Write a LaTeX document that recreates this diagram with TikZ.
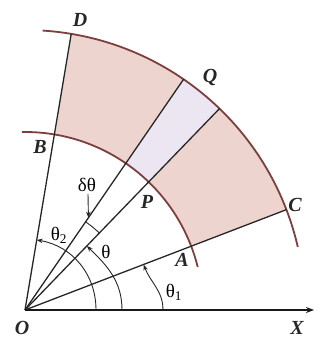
\documentclass[tikz,border=0pt]{standalone}
\usepackage{fontspec}
\setmainfont{Liberation Serif}
\usetikzlibrary{arrows.meta}
\definecolor{sectorfill}{RGB}{238,212,206}
\definecolor{stripfill}{RGB}{236,230,242}
\definecolor{arcline}{RGB}{125,62,62}
\begin{document}
\begin{tikzpicture}[x=1pt,y=1pt,
  ray/.style={line width=1.3pt, black!85},
  bigarc/.style={line width=1.8pt, arcline},
  anglearc/.style={line width=0.9pt, black!85, -{Stealth[length=6pt,width=4.5pt]}},
  lab/.style={font=\fontsize{20}{22}\selectfont\bfseries\itshape, inner sep=0pt, black!85},
  glab/.style={font=\fontsize{19}{21}\selectfont, inner sep=0pt}]
\useasboundingbox (0,0) rectangle (327,338);
\coordinate (O) at (25,28);
\def\ri{178}
\def\ro{280}
\path (O) ++(21:\ri) coordinate (A)
      (O) ++(21:\ro) coordinate (C)
      (O) ++(80.5:\ri) coordinate (B)
      (O) ++(80.5:\ro) coordinate (D)
      (O) ++(46:\ri) coordinate (P)
      (O) ++(46:\ro) coordinate (R)
      (O) ++(55.5:\ri) coordinate (S)
      (O) ++(55.5:\ro) coordinate (Q);
% shaded region
\fill[sectorfill] (A) -- (C) arc[start angle=21,end angle=80.5,radius=\ro] -- (B) arc[start angle=80.5,end angle=21,radius=\ri] -- cycle;
\fill[stripfill] (P) -- (R) arc[start angle=46,end angle=55.5,radius=\ro] -- (S) arc[start angle=55.5,end angle=46,radius=\ri] -- cycle;
% big arcs
\draw[bigarc] (O) ++(13:\ro) arc[start angle=13,end angle=86.4,radius=\ro];
\draw[bigarc] (O) ++(14:\ri) arc[start angle=14,end angle=91,radius=\ri];
% rays
\draw[ray] (O) -- (D);
\draw[ray] (O) -- (Q);
\draw[ray] (O) -- (R);
\draw[ray] (O) -- (C);
% x axis
\coordinate (Xend) at (314,28);
\draw[line width=1.9pt, black!90, -{Stealth[length=8pt,width=6pt]}] (O) -- (Xend);
% angle arcs
\path (O) ++(0:138) coordinate (t1s) (O) ++(21:127) coordinate (t1e);
\draw[anglearc] (t1s) to[out=90,in=-69] (t1e);
\path (O) ++(0:97) coordinate (ts) (O) ++(46:89) coordinate (te);
\draw[anglearc] (ts) to[out=90,in=-44] (te);
\path (O) ++(0:71) coordinate (t2s) (O) ++(80.5:71) coordinate (t2e);
\draw[anglearc] (t2s) to[out=90,in=-9.5] (t2e);
\path (O) ++(46:107) coordinate (ds) (O) ++(55.5:112) coordinate (dtip);
\draw[line width=0.9pt, black!85] (ds) arc[start angle=46,end angle=55.5,radius=107];
% labels
\node[lab] (lO) at (22,10) {O};
\node[lab] (lX) at (297,10) {X};
\node[lab] (lA) at (182,78) {A};
\node[lab] (lC) at (295,133) {C};
\node[lab] (lP) at (147,136) {P};
\node[lab] (lB) at (40,191) {B};
\node[lab] (lQ) at (210,260) {Q};
\node[lab] (lD) at (80,318) {D};
\node[glab] (lt1) at (174,46) {θ\textsubscript{1}};
\node[glab] (lt) at (106,86) {θ};
\node[glab] (lt2) at (59,103) {θ\textsubscript{2}};
\node[glab] (ldt) at (87,153) {δθ};
\draw[anglearc] (ldt.south) ++(1,-2) -- (dtip);
\end{tikzpicture}
\end{document}
